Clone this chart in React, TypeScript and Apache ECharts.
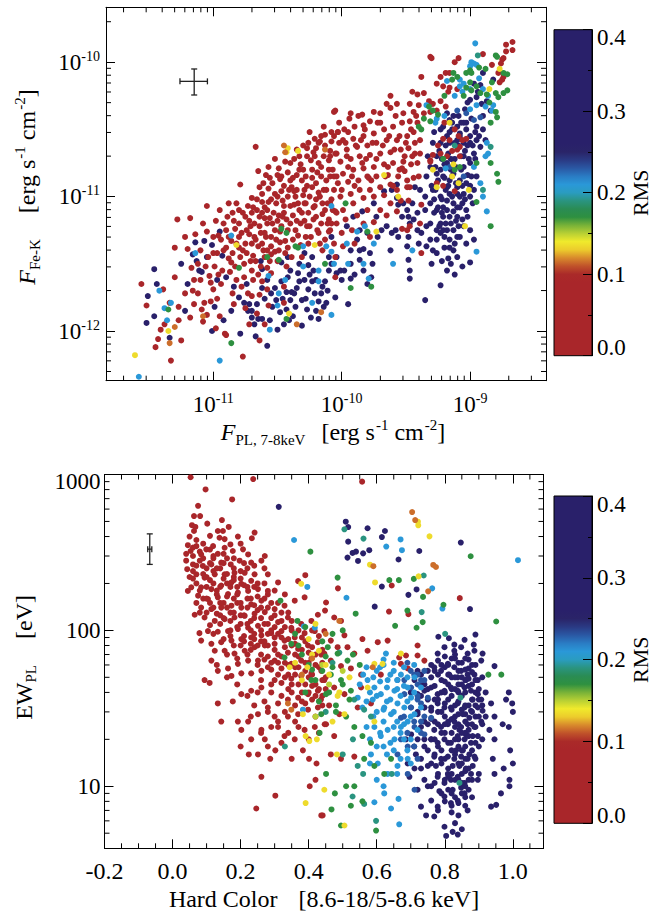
import { useEffect, useRef } from 'react';
import * as echarts from 'echarts';

const FONT = '"Liberation Serif", "Times New Roman", serif';

// colour of the RMS bar, one entry per 0.01 from 0.00 to 0.40
const RMS_COLORS = [
  '#a9262a', '#a9262a', '#a9262a', '#a9262a', '#a9262a', '#a9262a', '#a9262a', '#a9262a', '#a9262a', '#a9262a',
  '#aa2a29', '#c0522a', '#d88a2c', '#eccc2c', '#f0ea2c', '#b8d034', '#78b238', '#2e9040', '#2a8c54', '#2a9480',
  '#2a9cc0', '#2a98d8', '#2a7cc4', '#2a58a4', '#2a3a84',
  '#2a2468', '#29206a', '#29206a', '#29206a', '#29206a', '#29206a', '#29206a', '#29206a', '#29206a', '#29206a',
  '#29206a', '#29206a', '#29206a', '#29206a', '#29206a', '#29206a',
];

// rms value of each colour group of points
const RMS_RED = 0.05;
const RMS_ORANGE = 0.115;
const RMS_YELLOW = 0.135;
const RMS_LIME = 0.15;
const RMS_GREEN = 0.17;
const RMS_TEAL = 0.19;
const RMS_CYAN = 0.21;
const RMS_BLUE = 0.23;
const RMS_NAVY = 0.32;

// ---- top panel, points as [log10 F_PL, log10 F_FeK] ----
const TOP_RED = [
  [-11.56,-11.65],[-11.52,-11.81],[-11.45,-12.12],[-11.39,-11.69],[-11.43,-12.06],[-11.41,-11.99],[-11.34,-11.79],[-11.38,-11.95],
  [-11.33,-12.22],[-11.27,-11.82],[-11.27,-11.92],[-11.25,-12.07],[-11.28,-11.17],[-11.18,-11.16],[-11.20,-11.39],[-11.18,-11.90],
  [-11.16,-11.70],[-11.15,-11.62],[-11.17,-11.53],[-11.14,-11.28],[-11.10,-11.40],[-11.09,-11.84],[-11.08,-11.93],[-11.07,-11.79],
  [-11.05,-11.07],[-11.05,-11.26],[-11.04,-11.45],[-11.03,-11.59],[-11.02,-11.78],[-10.96,-11.29],[-10.94,-11.32],[-10.99,-11.52],
  [-10.96,-11.58],[-10.94,-11.65],[-11.00,-11.69],[-10.97,-11.76],[-10.95,-11.89],[-10.91,-12.02],[-10.90,-12.03],[-10.89,-11.15],
  [-10.85,-11.12],[-10.83,-11.24],[-10.82,-11.35],[-10.88,-11.46],[-10.86,-11.49],[-10.82,-11.62],[-10.79,-11.45],[-10.77,-11.40],
  [-10.75,-11.35],[-10.78,-11.67],[-10.85,-11.72],[-10.77,-12.19],[-10.75,-11.83],[-10.79,-10.91],[-10.73,-11.07],[-10.70,-11.01],
  [-10.71,-11.22],[-10.68,-11.20],[-10.67,-10.63],[-10.65,-10.81],[-10.64,-10.93],[-10.62,-11.04],[-10.62,-11.12],[-10.64,-11.22],
  [-10.68,-11.30],[-10.69,-11.44],[-10.65,-11.37],[-10.65,-11.58],[-10.62,-11.63],[-10.64,-11.73],[-10.70,-11.74],[-10.73,-11.72],
  [-10.66,-11.87],[-10.64,-12.07],[-10.59,-10.84],[-10.56,-10.86],[-10.57,-10.94],[-10.55,-11.02],[-10.58,-11.10],[-10.56,-11.16],
  [-10.60,-11.27],[-10.55,-11.37],[-10.55,-11.43],[-10.58,-11.53],[-10.55,-11.57],[-10.58,-11.69],[-10.57,-11.81],[-10.49,-10.79],
  [-10.48,-10.87],[-10.47,-10.96],[-10.51,-11.05],[-10.45,-11.07],[-10.49,-11.14],[-10.47,-11.22],[-10.51,-11.32],[-10.48,-11.26],
  [-10.44,-11.33],[-10.52,-11.41],[-10.44,-11.42],[-10.43,-11.52],[-10.45,-11.67],[-10.45,-11.79],[-10.40,-10.75],[-10.35,-10.84],
  [-10.32,-10.76],[-10.31,-10.88],[-10.29,-10.95],[-10.39,-10.93],[-10.36,-11.00],[-10.40,-11.07],[-10.38,-11.14],[-10.34,-11.05],
  [-10.31,-11.12],[-10.29,-11.05],[-10.26,-11.12],[-10.32,-11.20],[-10.36,-11.25],[-10.27,-11.22],[-10.38,-11.32],[-10.31,-11.45],
  [-10.14,-10.48],[-10.13,-10.54],[-10.21,-10.57],[-10.17,-10.59],[-10.21,-10.70],[-10.18,-10.75],[-10.08,-10.59],[-10.06,-10.37],
  [-10.10,-10.73],[-10.23,-10.80],[-10.16,-10.85],[-10.09,-10.85],[-10.23,-10.93],[-10.18,-10.97],[-10.12,-10.95],[-10.08,-11.02],
  [-10.21,-11.07],[-10.13,-11.10],[-10.22,-11.17],[-10.16,-11.20],[-10.10,-11.17],[-10.18,-11.27],[-10.10,-11.26],[-10.13,-11.32],
  [-10.05,-11.60],[-10.75,-11.15],[-10.72,-11.28],[-10.60,-11.08],[-10.58,-11.20],[-10.52,-10.98],[-10.50,-11.18],[-10.45,-10.92],
  [-10.42,-11.00],[-10.40,-11.20],[-10.35,-10.95],[-10.33,-11.10],[-10.28,-10.85],[-10.25,-11.00],[-10.24,-11.30],[-10.20,-10.90],
  [-10.20,-11.15],[-10.15,-11.05],[-10.28,-11.30],[-10.45,-11.12],[-10.62,-10.98],[-10.66,-11.10],[-10.70,-11.12],[-10.80,-11.20],
  [-10.90,-11.25],[-10.92,-11.40],[-10.87,-11.56],[-10.80,-11.30],[-10.76,-11.50],[-10.70,-11.55],[-10.60,-11.45],[-10.50,-11.48],
  [-10.62,-11.35],[-10.42,-10.82],[-10.37,-10.72],[-10.27,-10.70],[-10.30,-10.62],[-10.25,-10.52],
  [-8.67,-9.85],[-8.72,-9.87],[-8.67,-9.91],[-8.72,-9.92],[-9.31,-9.96],[-9.30,-9.97],[-8.90,-9.94],[-8.75,-9.98],
  [-8.76,-10.01],[-8.74,-9.97],[-9.12,-10.00],[-9.09,-9.97],[-8.83,-10.02],[-8.78,-10.08],[-8.75,-10.13],[-8.77,-10.15],
  [-8.74,-10.11],[-9.19,-10.08],[-9.16,-10.08],[-9.23,-10.11],[-9.38,-10.11],[-9.26,-10.16],[-9.21,-10.18],[-9.16,-10.19],
  [-9.17,-10.22],[-9.10,-10.20],[-9.45,-10.22],[-9.41,-10.24],[-9.36,-10.23],[-9.47,-10.31],[-9.40,-10.32],[-9.32,-10.29],
  [-9.29,-10.31],[-9.23,-10.29],[-9.19,-10.33],[-9.26,-10.36],[-9.31,-10.37],[-9.44,-10.37],[-9.36,-10.38],
  [-9.21,-10.57],[-9.16,-10.58],[-9.09,-10.55],[-9.03,-10.57],[-9.08,-10.63],[-9.23,-10.68],[-9.29,-10.69],[-9.18,-10.70],
  [-9.26,-10.90],[-9.31,-10.73],[-9.21,-10.92],[-9.12,-10.96],[-9.10,-10.65],[-9.08,-10.70],[-9.39,-10.68],[-9.41,-10.75],
  [-9.31,-10.74],
  [-10.05,-10.36],[-9.93,-10.38],[-9.84,-10.39],[-9.75,-10.37],[-9.65,-10.31],[-9.57,-10.31],[-9.62,-10.34],[-9.70,-10.38],
  [-9.78,-10.44],[-9.83,-10.47],[-9.90,-10.48],[-9.95,-10.52],[-10.03,-10.52],[-10.06,-10.55],[-9.99,-10.58],[-9.91,-10.57],
  [-9.83,-10.55],[-9.75,-10.53],[-9.67,-10.50],[-9.60,-10.48],[-9.53,-10.45],[-9.47,-10.44],[-9.41,-10.45],[-9.44,-10.52],
  [-9.49,-10.55],[-9.57,-10.58],[-9.65,-10.58],[-9.73,-10.60],[-9.80,-10.62],[-9.88,-10.63],[-9.96,-10.65],[-10.04,-10.68],
  [-10.09,-10.70],[-10.01,-10.74],[-9.93,-10.72],[-9.86,-10.70],[-9.78,-10.69],[-9.70,-10.68],[-9.62,-10.67],[-9.54,-10.65],
  [-9.48,-10.64],[-9.43,-10.60],[-9.39,-10.58],[-9.45,-10.70],[-9.52,-10.74],[-9.60,-10.75],[-9.67,-10.76],[-9.75,-10.78],
  [-9.83,-10.79],[-9.91,-10.80],[-9.99,-10.83],[-10.06,-10.85],[-10.03,-10.90],[-9.95,-10.89],[-9.87,-10.88],[-9.79,-10.86],
  [-9.73,-10.85],[-9.64,-10.84],[-9.56,-10.85],[-9.51,-10.81],[-9.62,-10.91],[-9.70,-10.93],[-9.78,-10.95],[-9.86,-10.95],
  [-9.93,-10.98],[-10.01,-11.00],[-10.09,-11.05],[-10.05,-11.11],[-9.99,-11.10],[-9.91,-11.05],[-9.83,-11.01],[-9.75,-11.00],
  [-9.67,-10.99],[-9.57,-10.95],[-9.49,-10.93],[-9.54,-11.03],[-9.62,-11.05],[-9.70,-11.10],[-9.80,-11.10],[-9.88,-11.14],
  [-9.97,-11.17],[-10.04,-11.20],[-10.09,-11.25],[-10.00,-11.27],[-9.92,-11.25],[-9.83,-11.20],[-9.75,-11.19],[-9.65,-11.14],
  [-9.57,-11.11],[-9.47,-10.93],[-9.48,-11.03],[-9.38,-11.06],[-9.39,-11.20],[-9.47,-11.22],[-9.53,-11.24],[-10.06,-11.35],
  [-9.99,-11.37],[-10.05,-11.45],[-9.90,-11.35],[-9.78,-11.30],[-9.49,-11.25],[-9.38,-11.42],[-9.49,-10.88],[-9.44,-10.86],
  [-9.53,-10.79],[-9.40,-10.85],
];
// extra red points read from the densest part of the red cloud
const TOP_RED_CORE = [
  [-10.88,-11.05],[-10.84,-11.18],[-10.86,-11.33],[-10.80,-11.10],[-10.78,-11.27],[-10.74,-11.42],[-10.72,-11.18],[-10.70,-11.35],
  [-10.67,-11.48],[-10.66,-11.02],[-10.63,-11.27],[-10.61,-11.40],[-10.60,-11.16],[-10.83,-11.52],[-10.76,-11.60],[-10.69,-11.62],
  [-10.90,-11.38],[-10.93,-11.55],[-10.97,-11.42],[-11.00,-11.30],[-10.98,-11.18],[-11.06,-11.52],[-11.10,-11.62],[-11.12,-11.72],
  [-11.02,-11.64],[-10.57,-11.04],[-10.53,-11.12],[-10.52,-11.25],[-10.54,-10.90],[-10.50,-10.84],[-10.46,-11.03],[-10.43,-11.17],
  [-10.42,-11.38],[-10.41,-10.95],[-10.38,-10.86],[-10.37,-11.06],[-10.34,-11.29],[-10.33,-10.80],[-10.30,-10.99],[-10.29,-11.18],
  [-10.27,-10.92],[-10.26,-11.35],[-10.24,-10.73],[-10.22,-11.08],[-10.20,-10.64],[-10.19,-10.82],[-10.17,-11.00],[-10.15,-11.13],
  [-10.14,-10.70],[-10.12,-10.88],[-10.11,-11.05],[-10.09,-10.66],[-10.07,-10.80],[-10.06,-10.95],[-10.04,-11.12],[-10.03,-10.52],
  [-10.19,-11.25],[-10.15,-11.40],[-10.08,-11.20],[-10.35,-10.65],[-10.26,-10.60],[-10.16,-10.55],[-10.48,-11.34],[-10.55,-11.30],
  [-10.58,-11.40],[-10.02,-10.45],[-9.97,-10.60],[-9.95,-10.78],[-9.90,-10.92],[-9.85,-10.58],[-9.81,-10.72],[-9.77,-10.88],
  [-9.72,-10.45],[-9.68,-10.62],[-9.64,-10.78],[-9.60,-10.92],[-9.58,-10.40],[-9.55,-10.55],[-9.51,-10.70],[-9.46,-10.50],
  [-9.43,-10.68],[-9.62,-10.25],[-9.52,-10.38],[-9.20,-10.45],[-9.14,-10.66],[-9.06,-10.58],[-9.25,-10.62],[-9.12,-10.50],
  [-10.95,-11.10],[-10.92,-11.20],[-10.88,-11.30],[-10.85,-11.42],[-10.82,-11.05],[-10.80,-11.38],[-10.77,-11.12],[-10.74,-11.25],
  [-10.71,-11.48],[-10.69,-11.08],[-10.67,-11.32],[-10.64,-11.15],[-10.63,-11.52],[-10.61,-10.90],[-10.59,-11.30],[-10.57,-10.78],
  [-10.56,-11.48],[-10.54,-11.20],[-10.52,-10.72],[-10.50,-11.00],[-10.49,-11.40],[-10.47,-10.85],[-10.46,-11.15],[-10.44,-10.74],
  [-10.42,-11.25],[-10.40,-10.88],[-10.39,-11.45],[-10.37,-10.96],[-10.35,-11.18],[-10.33,-10.70],[-10.32,-11.36],[-10.30,-10.80],
  [-10.28,-11.05],[-10.27,-10.64],[-10.25,-11.22],[-10.23,-10.86],[-10.22,-10.67],[-10.20,-11.02],[-10.18,-10.60],[-10.17,-11.35],
  [-10.16,-10.78],[-10.14,-10.95],[-10.13,-10.62],[-10.11,-11.20],[-10.10,-10.80],[-10.08,-10.52],[-10.07,-11.10],[-10.05,-10.68],
  [-10.04,-10.85],[-10.02,-10.60],[-10.00,-10.95],[-9.98,-10.50],[-9.96,-10.70],[-9.94,-10.42],[-9.92,-10.85],[-9.89,-10.62],
  [-9.87,-10.40],[-9.84,-10.75],[-9.82,-10.50],[-9.80,-10.85],[-9.76,-10.60],[-9.73,-10.72],[-9.70,-10.45],[-9.66,-10.85],
  [-9.63,-10.55],[-9.59,-10.65],[-9.55,-10.80],[-9.50,-10.60],[-9.46,-10.76],[-9.42,-10.40],
  [-11.22,-11.30],[-11.12,-11.50],[-11.08,-11.20],[-11.00,-11.42],[-11.15,-11.80],[-11.05,-11.88],[-10.98,-11.98],[-10.84,-11.80],
  [-10.72,-11.95],[-10.60,-11.95],[-11.30,-11.60],[-11.22,-11.72],[-11.30,-11.38],
];
const TOP_NAVY = [
  [-11.46,-11.54],[-11.51,-11.74],[-11.52,-11.94],[-11.46,-11.89],[-11.44,-11.65],[-11.34,-12.05],[-11.16,-11.43],[-11.14,-11.34],
  [-11.13,-11.48],[-11.11,-11.55],[-11.09,-11.56],[-11.07,-11.33],[-11.01,-12.00],[-10.95,-11.26],[-11.01,-11.36],[-10.93,-11.44],
  [-10.92,-11.92],[-10.84,-11.67],[-10.79,-12.02],[-10.76,-11.79],[-10.72,-11.80],[-10.73,-11.85],[-10.70,-11.85],[-10.63,-11.48],
  [-10.65,-11.91],[-10.62,-11.91],[-10.67,-12.04],[-10.58,-12.11],[-10.62,-11.54],[-10.60,-11.76],[-10.54,-11.82],[-10.51,-11.77],
  [-10.50,-11.99],[-10.47,-11.49],[-10.42,-11.45],[-10.47,-11.63],[-10.42,-11.60],[-10.43,-11.71],[-10.39,-11.71],[-10.40,-11.77],
  [-10.43,-11.84],[-10.38,-11.89],[-10.31,-11.96],[-10.29,-11.42],[-10.23,-11.45],[-10.26,-11.51],[-10.22,-11.55],[-10.34,-11.57],
  [-10.29,-11.62],[-10.23,-11.63],[-10.35,-11.68],[-10.26,-11.69],[-10.21,-11.72],[-10.16,-11.72],[-10.31,-11.77],[-10.18,-11.78],
  [-10.12,-11.79],[-10.27,-11.84],[-10.18,-11.91],[-10.08,-11.30],[-10.10,-11.45],[-10.13,-11.63],
  [-8.97,-10.16],[-8.92,-10.17],[-8.95,-10.26],[-8.91,-10.31],[-9.00,-10.28],[-8.87,-10.29],[-8.84,-10.36],[-8.90,-10.08],
  [-8.82,-10.13],[-9.18,-10.38],[-9.16,-10.43],[-9.21,-10.48],[-9.14,-10.50],[-9.10,-10.48],[-9.05,-10.45],[-9.08,-10.53],
  [-9.03,-10.50],[-9.00,-10.55],[-9.05,-10.60],[-9.00,-10.60],[-8.95,-10.58],[-9.10,-10.58],[-9.18,-10.55],[-9.16,-10.60],
  [-9.23,-10.60],[-9.31,-10.78],[-9.26,-10.83],[-9.34,-10.85],[-9.21,-10.85],[-9.16,-10.88],[-9.10,-10.93],[-9.29,-10.95],
  [-9.23,-11.00],[-9.18,-11.03],[-9.13,-11.05],[-9.08,-11.08],[-9.16,-11.15],[-9.21,-11.15],[-9.10,-11.15],[-9.26,-11.10],
  [-9.31,-11.05],[-9.05,-10.98],[-9.00,-11.00],[-9.03,-11.10],[-9.18,-11.25],[-9.23,-11.27],[-9.31,-11.32],[-9.26,-11.32],
  [-9.16,-11.32],[-9.10,-11.30],[-9.05,-11.22],[-9.00,-11.25],[-8.97,-11.32],[-9.17,-11.46],[-9.06,-11.52],[-9.34,-11.37],
  [-9.29,-11.40],[-9.21,-11.25],[-9.18,-10.75],[-9.13,-10.73],[-9.05,-10.70],[-9.00,-10.75],[-9.26,-10.70],[-9.23,-10.80],
  [-9.13,-10.83],[-9.08,-10.88],[-9.03,-10.90],[-9.18,-10.93],[-9.16,-10.98],[-9.08,-11.00],[-9.21,-11.08],[-9.13,-11.11],
  [-9.06,-11.17],[-9.23,-11.20],[-9.31,-11.20],[-9.03,-11.35],[-9.13,-11.40],[-8.95,-10.48],[-8.90,-10.50],[-8.92,-10.63],
  [-8.97,-10.68],[-8.95,-10.85],[-8.97,-10.95],[-9.23,-11.66],[-9.12,-11.58],[-9.35,-11.77],[-9.00,-11.49],
  [-9.57,-10.91],[-9.61,-10.95],[-9.67,-10.96],[-9.75,-11.05],[-9.84,-11.11],[-9.91,-11.15],[-9.96,-11.22],[-9.86,-11.25],
  [-9.80,-11.27],[-9.88,-11.32],[-9.93,-11.40],[-9.83,-11.39],[-9.78,-11.42],[-9.86,-11.47],[-9.93,-11.50],[-10.01,-11.55],
  [-9.83,-11.55],[-9.77,-11.60],[-9.93,-11.61],[-9.80,-11.65],[-10.04,-11.57],[-10.08,-11.50],[-9.57,-11.01],[-9.52,-11.05],
  [-9.49,-11.10],[-9.48,-11.15],[-9.47,-11.20],[-9.48,-11.30],[-9.49,-11.37],[-9.48,-11.47],[-9.47,-11.55],[-9.47,-11.61],
  [-9.56,-11.06],[-9.41,-11.12],[-9.44,-11.17],[-9.61,-11.27],[-9.58,-11.25],[-9.69,-11.25],[-9.65,-11.22],[-9.73,-11.15],
  [-9.41,-11.25],[-9.34,-11.22],[-9.38,-11.27],[-9.40,-11.35],[-9.53,-11.15],[-9.45,-11.05],[-9.39,-10.95],[-9.43,-10.93],
  [-9.35,-11.00],
];
// extra navy points read from the dense cluster near 1e-9 and the lower left group
const TOP_NAVY_CORE = [
  [-9.28,-10.52],[-9.24,-10.66],[-9.20,-10.76],[-9.17,-10.68],[-9.15,-10.80],[-9.12,-10.72],[-9.11,-10.90],[-9.09,-10.62],
  [-9.07,-10.80],[-9.04,-10.66],[-9.02,-10.84],[-9.00,-10.92],[-8.98,-10.62],[-9.27,-10.95],[-9.22,-11.02],[-9.19,-10.95],
  [-9.14,-11.00],[-9.10,-11.08],[-9.06,-11.05],[-9.02,-11.15],[-9.28,-11.12],[-9.24,-11.22],[-9.19,-11.20],[-9.13,-11.25],
  [-9.08,-11.30],[-9.26,-11.42],[-9.20,-11.38],[-9.15,-11.50],[-9.10,-11.45],[-9.07,-10.45],[-9.13,-10.40],[-9.04,-10.35],
  [-8.99,-10.42],[-8.93,-10.55],[-8.96,-10.72],[-9.33,-10.70],[-9.30,-10.92],[-9.35,-11.10],
  [-10.55,-11.72],[-10.48,-11.86],[-10.36,-11.82],[-10.33,-11.63],[-10.25,-11.58],[-10.20,-11.85],[-10.15,-11.67],[-10.10,-11.55],
  [-10.05,-11.75],[-10.00,-11.62],[-9.95,-11.80],[-10.62,-11.68],[-10.68,-11.95],[-10.40,-11.55],[-10.45,-11.95],
  [-9.29,-10.60],[-9.27,-10.78],[-9.25,-10.88],[-9.23,-10.50],[-9.22,-10.72],[-9.20,-10.86],[-9.19,-10.62],[-9.17,-10.92],
  [-9.16,-10.52],[-9.15,-10.72],[-9.14,-10.85],[-9.12,-10.60],[-9.11,-10.78],[-9.10,-10.98],[-9.08,-10.55],[-9.07,-10.70],
  [-9.06,-10.92],[-9.05,-10.78],[-9.04,-11.02],[-9.03,-10.45],[-9.02,-10.62],[-9.01,-10.72],[-8.99,-10.85],[-8.98,-11.05],
  [-8.96,-10.52],[-9.28,-11.02],[-9.25,-11.08],[-9.22,-11.12],[-9.18,-11.10],[-9.15,-11.20],[-9.11,-11.18],[-9.09,-11.22],
  [-9.26,-11.25],[-9.20,-11.30],[-9.16,-11.38],[-9.12,-11.35],[-9.22,-11.48],[-9.18,-11.55],[-9.30,-11.50],[-9.14,-10.45],
  [-9.09,-10.40],[-9.02,-10.30],[-8.94,-10.22],[-8.90,-10.40],[-8.88,-10.58],
  [-10.90,-11.60],[-10.86,-11.85],[-10.80,-11.75],[-10.74,-11.65],[-10.70,-11.90],[-10.66,-11.80],[-10.58,-11.62],[-10.56,-11.92],
  [-10.52,-11.68],[-10.46,-11.76],[-10.41,-11.92],[-10.37,-11.72],[-10.33,-11.50],[-10.28,-11.76],[-10.24,-11.90],[-10.20,-11.62],
  [-10.14,-11.82],[-10.11,-11.70],[-10.04,-11.45],[-9.98,-11.55],[-9.90,-11.58],[-9.86,-11.40],[-9.76,-11.50],[-9.72,-11.30],
  [-9.62,-11.40],[-9.56,-11.30],[-11.25,-11.50],[-11.20,-11.65],[-11.05,-11.45],[-10.97,-11.62],[-10.99,-11.82],[-11.22,-11.85],
];
const TOP_BLUE = [[-9.03,-10.38],[-8.97,-10.43],[-9.10,-10.36],[-8.92,-10.41],[-9.05,-10.85],[-9.16,-10.78]];
const TOP_CYAN = [
  [-11.58,-12.34],[-11.42,-11.70],[-11.38,-11.83],[-11.33,-11.79],[-11.36,-11.92],[-11.14,-11.42],[-10.95,-12.22],[-10.86,-11.29],
  [-10.57,-11.59],[-10.50,-11.81],[-10.56,-11.99],[-10.44,-11.62],[-10.49,-11.72],[-10.30,-11.37],[-10.30,-11.52],[-10.18,-11.55],
  [-10.18,-11.63],[-10.23,-11.79],[-10.08,-11.88],[-10.08,-11.07],[-10.12,-11.37],[-10.06,-11.50],
  [-8.96,-9.86],[-8.99,-10.00],[-8.97,-10.01],[-8.95,-10.02],[-9.00,-10.03],[-9.18,-10.14],[-9.08,-10.13],[-9.05,-10.16],
  [-9.08,-10.18],[-9.06,-10.22],[-8.88,-10.33],[-8.82,-10.32],[-8.83,-10.36],[-9.34,-10.32],[-9.26,-10.42],[-9.27,-10.45],
  [-9.19,-10.79],[-8.87,-11.11],[-8.95,-11.41],[-8.97,-10.78],[-8.88,-10.70],[-8.86,-10.68],[-8.87,-10.60],[-10.08,-11.41],
  [-9.96,-11.35],[-9.83,-11.50],[-9.79,-11.61],[-9.95,-11.50],[-9.88,-11.26],[-9.82,-11.22],[-9.75,-11.35],
  [-8.93,-10.12],[-8.90,-10.20],[-8.86,-10.25],[-9.00,-10.20],[-8.95,-10.32],[-9.12,-10.25],[-9.20,-10.40],[-9.00,-10.35],
  [-8.92,-10.90],[-8.90,-11.00],[-9.45,-11.40],[-9.60,-11.50],
];
const TOP_TEAL = [[-8.94,-9.95],[-8.84,-10.63],[-9.12,-10.62],[-8.90,-10.95]];
const TOP_GREEN = [
  [-11.35,-11.84],[-10.86,-12.09],[-10.80,-11.53],[-10.58,-11.45],[-10.47,-11.24],[-10.43,-11.27],[-10.49,-11.47],[-10.43,-11.91],
  [-10.36,-11.37],[-10.34,-11.38],[-10.13,-11.50],
  [-8.80,-9.95],[-8.79,-9.96],[-9.00,-10.06],[-9.03,-10.08],[-8.99,-10.08],[-8.93,-10.04],[-8.74,-10.08],[-8.71,-10.09],
  [-9.13,-10.08],[-9.10,-10.11],[-9.14,-10.13],[-9.03,-10.19],[-8.99,-10.21],[-8.95,-10.18],[-8.92,-10.23],[-8.87,-10.24],
  [-8.80,-10.23],[-8.78,-10.26],[-8.74,-10.23],[-8.71,-10.21],[-8.79,-10.41],[-8.80,-10.37],[-8.84,-10.45],[-9.32,-10.33],
  [-9.29,-10.36],[-9.36,-10.42],[-9.31,-10.44],[-9.25,-10.39],[-9.38,-10.50],[-9.40,-10.48],[-9.21,-10.72],[-9.12,-10.80],
  [-9.08,-10.78],[-8.95,-10.75],[-8.84,-10.75],[-8.79,-10.83],[-8.78,-10.89],[-8.95,-11.04],[-8.84,-11.22],[-9.97,-11.05],
  [-9.80,-11.26],[-9.77,-11.67],[-9.93,-11.68],[-8.88,-10.05],[-8.83,-10.15],[-9.05,-10.25],[-9.00,-10.15],[-8.85,-10.30],
  [-9.20,-10.25],
];
const TOP_YELLOW = [
  [-11.61,-12.18],[-11.35,-12.00],[-10.82,-11.36],[-10.41,-11.87],[-10.42,-10.64],[-10.43,-10.67],[-10.34,-10.66],[-10.21,-11.36],
  [-8.77,-10.05],[-8.85,-10.20],[-9.29,-10.80],[-9.26,-10.93],[-9.14,-10.85],[-9.09,-10.90],[-9.04,-11.22],[-9.01,-10.95],
  [-9.13,-10.76],[-9.16,-10.45],[-9.73,-11.26],[-9.67,-10.84],[-9.56,-11.00],
];
const TOP_ORANGE = [
  [-11.34,-12.09],[-11.30,-11.97],[-11.08,-11.89],[-10.35,-11.95],[-10.45,-10.62],[-10.44,-10.67],[-10.16,-11.86],[-10.13,-10.65],
];
// typical error of one point, top panel
const TOP_ERR = { x: 7.1e-12, xLo: 5.5e-12, xHi: 9.0e-12, y: 7.2e-11, yLo: 5.7e-11, yHi: 8.9e-11 };
const TOP_X_RANGE = [1.46e-12, 3.9e-9];
const TOP_Y_RANGE = [4.27e-13, 2.56e-10];

// ---- bottom panel, points as [hard colour, EW in eV] ----
const BOT_RED = [
  [0.053,960],[0.237,935],[0.097,802],[0.175,692],[0.075,630],[0.063,541],[0.081,541],[0.145,510],[0.102,484],[0.165,461],
  [0.057,473],[0.067,461],[0.063,434],[0.110,404],[0.133,434],[0.148,434],[0.138,393],[0.153,385],[0.192,400],[0.170,356],
  [0.200,360],[0.241,424],[0.233,390],[0.045,352],[0.053,323],[0.040,310],[0.070,347],[0.084,307],[0.099,331],[0.119,347],
  [0.133,310],[0.153,339],[0.177,323],[0.207,331],[0.222,307],[0.271,300],[0.261,280],[0.231,272],[0.197,280],[0.171,265],
  [0.143,272],[0.114,265],[0.089,259],[0.060,265],[0.043,247],[0.070,229],[0.094,218],[0.124,229],[0.153,229],[0.182,234],
  [0.212,234],[0.241,229],[0.280,229],[0.231,208],[0.202,199],[0.173,203],[0.143,194],[0.114,184],[0.084,189],[0.055,189],
  [0.045,179],[0.075,167],[0.104,159],[0.133,163],[0.163,171],[0.192,175],[0.222,179],[0.251,184],[0.280,179],[0.310,203],
  [0.261,155],[0.231,147],[0.202,140],[0.173,144],[0.143,140],[0.114,137],[0.084,140],[0.065,126],[0.094,121],[0.124,115],
  [0.153,118],[0.182,121],[0.212,124],[0.241,128],[0.271,131],[0.300,137],[0.329,144],[0.359,155],[0.388,163],[0.369,207],
  [0.390,226],[0.079,96],[0.104,99],[0.133,98],[0.163,99],[0.192,102],[0.222,104],[0.251,107],[0.280,110],[0.310,113],
  [0.339,121],[0.084,86],[0.114,82],[0.143,84],[0.173,86],[0.202,88],[0.231,90],[0.261,93],[0.290,96],[0.320,99],
  [0.349,104],[0.378,110],[0.408,115],[0.427,126],[0.114,64],[0.124,74],[0.153,74],[0.182,71],[0.212,74],[0.241,78],
  [0.271,80],[0.300,82],[0.329,86],[0.359,90],[0.388,96],[0.418,99],[0.133,55],[0.163,57],[0.192,61],[0.222,64],
  [0.251,64],[0.280,68],[0.310,70],[0.339,72],[0.369,76],[0.398,80],[0.427,84],[0.094,48],[0.109,46],[0.173,51],
  [0.202,53],[0.231,53],[0.261,55],[0.290,56],[0.320,57],[0.349,61],[0.378,64],[0.408,66],[0.437,70],[0.133,34],
  [0.177,35],[0.202,39],[0.231,41],[0.261,43],[0.290,45],[0.320,46],[0.349,49],[0.378,51],[0.408,53],[0.437,55],
  [0.143,26],[0.192,26],[0.222,26],[0.251,29],[0.280,32],[0.310,34],[0.339,36],[0.369,37],[0.398,39],[0.427,41],
  [0.202,23],[0.231,20],[0.261,23],[0.271,20],[0.290,24],[0.310,26],[0.339,28],[0.369,29],[0.398,31],[0.427,32],
  [0.200,18],[0.224,16],[0.251,16],[0.287,15],[0.302,17],[0.329,21],[0.359,20],[0.388,23],[0.418,24],[0.447,25],
  [0.261,11.5],[0.302,8.7],[0.246,7.2],[0.403,10],[0.420,11],[0.437,6.5],[0.401,15],[0.423,14],[0.383,17],
  [0.557,900],[0.644,194],[0.486,186],[0.844,161],[0.636,132],[0.693,127],[0.451,151],[0.448,134],[0.475,121],[0.495,115],
  [0.505,93],[0.446,99],[0.465,86],[0.485,78],[0.514,78],[0.534,71],[0.558,88],[0.573,74],[0.603,84],[0.632,86],
  [0.446,71],[0.465,64],[0.495,59],[0.524,57],[0.554,52],[0.446,48],[0.475,43],[0.505,39],[0.436,36],[0.460,33],
  [0.490,29],[0.451,25],[0.475,21],[0.465,16],[0.495,15],[0.534,15.5],[0.441,6.5],[0.554,43],[0.544,32],[0.666,67],
  [0.686,69],[0.671,61],[0.691,57],[0.720,80],[0.720,69],[0.612,52],[0.583,34],[0.740,64],
];
// extra red points read from the dense red cloud
const BOT_RED_CORE = [
  [0.06,300],[0.08,280],[0.10,250],[0.12,290],[0.14,250],[0.16,290],[0.18,250],[0.20,215],[0.22,250],[0.25,200],
  [0.27,160],[0.29,150],[0.11,210],[0.13,180],[0.16,200],[0.19,190],[0.09,160],[0.07,150],[0.06,215],[0.10,130],
  [0.13,128],[0.17,130],[0.20,110],[0.23,115],[0.26,120],[0.28,95],[0.30,105],[0.32,90],[0.35,80],[0.37,68],
  [0.40,72],[0.42,60],[0.44,62],[0.33,62],[0.36,52],[0.39,45],[0.42,45],[0.44,48],[0.30,64],[0.26,70],
  [0.23,82],[0.20,80],[0.17,92],[0.14,110],[0.11,108],[0.15,150],[0.18,160],[0.22,160],[0.24,145],[0.30,48],
  [0.34,42],[0.36,33],[0.41,36],[0.44,38],
  [0.05,400],[0.07,380],[0.09,360],[0.11,330],[0.08,320],[0.12,300],[0.15,310],[0.18,290],[0.21,270],[0.24,260],
  [0.27,250],[0.06,240],[0.09,230],[0.12,240],[0.15,215],[0.18,210],[0.21,195],[0.24,190],[0.27,200],[0.30,180],
  [0.33,170],[0.07,200],[0.10,190],[0.13,170],[0.16,165],[0.19,150],[0.22,140],[0.25,135],[0.28,140],[0.31,150],
  [0.34,130],[0.08,130],[0.11,150],[0.14,125],[0.17,115],[0.20,125],[0.23,100],[0.26,100],[0.29,120],[0.32,115],
  [0.35,100],[0.38,90],[0.12,95],[0.15,88],[0.18,80],[0.21,92],[0.24,88],[0.27,85],[0.30,90],[0.33,78],
  [0.36,70],[0.39,62],[0.41,78],[0.43,92],[0.16,70],[0.19,66],[0.22,70],[0.25,60],[0.28,58],[0.31,62],
  [0.34,52],[0.37,58],[0.40,50],[0.43,42],[0.26,48],[0.29,40],[0.32,38],[0.35,45],[0.38,40],[0.41,44],
  [0.44,33],[0.33,30],[0.36,26],[0.39,34],[0.42,28],[0.30,28],[0.27,35],[0.24,33],
  [0.04,280],[0.05,220],[0.06,340],[0.07,260],[0.08,180],[0.09,290],[0.10,220],[0.10,160],[0.11,270],[0.12,200],
  [0.12,140],[0.13,250],[0.14,190],[0.14,150],[0.15,270],[0.15,120],[0.16,230],[0.16,140],[0.17,190],[0.17,100],
  [0.18,220],[0.18,130],[0.19,170],[0.19,105],[0.20,240],[0.20,150],[0.21,125],[0.21,85],[0.22,190],[0.22,110],
  [0.23,160],[0.23,75],[0.24,120],[0.24,95],[0.25,165],[0.25,80],[0.26,140],[0.26,85],[0.27,110],[0.27,65],
  [0.28,170],[0.28,80],[0.29,100],[0.29,62],[0.30,125],[0.30,75],[0.31,95],[0.31,52],[0.32,130],[0.32,68],
  [0.33,105],[0.33,50],[0.34,88],[0.34,60],[0.35,115],[0.35,40],[0.36,82],[0.36,58],[0.37,100],[0.37,45],
  [0.38,75],[0.38,35],[0.39,85],[0.39,55],[0.40,62],[0.40,40],[0.41,100],[0.41,52],[0.42,70],[0.42,38],
  [0.43,58],[0.44,75],[0.45,50],[0.45,42],[0.13,60],[0.16,50],[0.19,45],[0.22,38],[0.25,40],[0.28,30],
  [0.31,24],[0.34,22],[0.37,24],[0.40,20],[0.43,22],[0.23,28],[0.26,22],[0.32,19],[0.35,15],[0.28,18],
];
const BOT_NAVY = [
  [0.312,620],[0.509,498],[0.516,460],[0.573,452],[0.624,434],[0.615,397],[0.516,371],[0.529,314],[0.539,320],[0.560,312],
  [0.578,327],[0.514,293],[0.545,279],[0.847,366],[0.725,323],[0.664,285],[0.615,191],[0.717,183],[0.693,169],[0.874,137],
  [0.594,142],[0.781,91],[0.812,89],[0.828,81],[0.858,87],[0.890,94],[0.885,81],[0.911,71],[0.946,59],[0.988,40],
  [0.980,36],[0.998,34],[1.000,30],[0.936,34],[0.946,28],[0.970,25],[0.988,24],[0.931,23],[0.946,20],[0.992,17],
  [1.000,14],[0.973,13],[0.941,15],[0.946,12],[0.990,11],[0.965,9],[0.951,7.6],[0.936,7.4],[0.990,10],
  [0.711,48],[0.730,52],[0.750,55],[0.769,58],[0.789,55],[0.809,61],[0.828,58],[0.848,55],[0.867,52],[0.887,52],
  [0.897,48],[0.720,39],[0.740,41],[0.760,43],[0.779,39],[0.799,41],[0.818,43],[0.838,41],[0.858,43],[0.877,41],
  [0.897,39],[0.907,36],[0.720,29],[0.740,32],[0.760,30.5],[0.779,34],[0.799,32],[0.818,32],[0.838,34],[0.858,32],
  [0.877,30.5],[0.897,32],[0.911,30.5],[0.730,24],[0.750,25],[0.769,23],[0.789,24],[0.809,25],[0.828,26],[0.848,24],
  [0.867,25],[0.887,24],[0.907,26],[0.720,20],[0.740,18],[0.760,20],[0.779,19],[0.799,20],[0.818,19],[0.838,21],
  [0.858,20],[0.877,19],[0.897,21],[0.730,15],[0.750,13.5],[0.769,15.5],[0.789,15],[0.809,15.5],[0.828,15],[0.848,15.5],
  [0.867,15],[0.887,15.5],[0.740,11],[0.760,10],[0.779,11.5],[0.799,10.5],[0.818,11],[0.838,11.5],[0.858,10.5],[0.877,12],
  [0.897,11],[0.760,8.1],[0.779,7.4],[0.799,8.6],[0.818,7.8],[0.838,8.1],[0.858,9],[0.867,7.0],[0.799,5.5],[0.823,5.1],
  [0.838,4.9],[0.804,4.8],[0.730,7.4],[0.745,6.5],[0.769,6.4],[0.720,9.5],[0.696,11.5],[0.711,13],[0.691,14],[0.715,16],
  [0.701,21.5],[0.686,20],[0.779,71],[0.799,78],[0.828,74],[0.848,78],[0.867,71],[0.887,74],[0.907,64],[0.813,52],
  [0.838,50],[0.862,48],[0.882,36],[0.853,29],[0.872,27.5],[0.843,23],[0.862,21.5],[0.882,21],[0.833,17],[0.853,17],
  [0.872,16],[0.823,13.5],[0.843,13.5],[0.862,13],[0.882,13.5],[0.823,9.5],[0.848,9.8],[0.784,9.3],[0.809,12],[0.774,13.5],
];
const BOT_NAVY_CORE = [
  [0.84,35],[0.85,45],[0.83,28],[0.86,22],[0.82,38],[0.87,33],[0.84,18],[0.86,26],[0.80,28],[0.81,45],
  [0.85,62],[0.87,57],[0.79,48],[0.83,66],[0.78,25],[0.88,45],[0.89,28],[0.90,18],[0.82,22],[0.85,12],
  [0.80,15],[0.86,10],[0.77,36],[0.76,50],[0.75,36],[0.74,45],
  [0.76,60],[0.78,52],[0.80,58],[0.82,50],[0.84,55],[0.86,48],[0.88,54],[0.77,44],[0.79,40],[0.81,36],
  [0.83,42],[0.85,38],[0.87,44],[0.89,40],[0.76,32],[0.78,30],[0.80,34],[0.82,31],[0.84,29],[0.86,33],
  [0.88,30],[0.90,36],[0.77,26],[0.79,22],[0.81,26],[0.83,24],[0.85,22],[0.87,23],[0.89,24],[0.76,20],
  [0.78,18],[0.80,22],[0.82,17],[0.84,20],[0.86,18],[0.88,17],[0.77,16],[0.79,14],[0.81,13],[0.83,16],
  [0.85,14],[0.87,13],[0.89,15],[0.78,12],[0.80,11],[0.82,12],[0.84,11],[0.86,12.5],[0.88,11],[0.81,9.5],
  [0.83,8.5],[0.85,9],[0.87,9.5],[0.79,9],[0.82,7.5],[0.84,6.5],[0.86,7.5],[0.83,5.8],[0.85,5.3],[0.87,65],
  [0.83,70],[0.80,68],[0.89,60],[0.91,50],[0.92,40],[0.91,25],[0.73,38],[0.72,30],[0.74,20],[0.73,13],
  [0.75,10],[0.71,18],[0.70,40],
  [0.75,42],[0.76,27],[0.77,55],[0.77,20],[0.78,36],[0.78,64],[0.79,30],[0.79,17],[0.80,47],[0.80,25],
  [0.81,60],[0.81,19],[0.82,42],[0.82,27],[0.82,9],[0.83,33],[0.83,50],[0.83,20],[0.84,40],[0.84,25],
  [0.84,14],[0.85,50],[0.85,31],[0.85,17],[0.86,40],[0.86,29],[0.86,15],[0.87,49],[0.87,21],[0.87,11],
  [0.88,36],[0.88,25],[0.88,60],[0.89,33],[0.89,19],[0.89,48],[0.90,28],[0.90,42],[0.90,12],[0.91,33],
  [0.91,20],[0.92,28],[0.80,40],[0.82,66],[0.84,62],[0.86,66],[0.84,45],[0.86,56],[0.81,52],[0.79,60],
  [0.83,11],[0.85,10.5],[0.81,11.5],[0.80,8],[0.84,7.8],[0.86,8.5],[0.88,8.5],[0.82,6.8],[0.78,7],[0.77,10.5],
  [0.76,14],[0.75,17],[0.74,26],[0.74,32],[0.73,44],[0.72,55],
];
const BOT_BLUE = [
  [0.681,48],[0.701,43],[0.720,36],[0.740,48],[0.750,37],[0.760,27.5],[0.730,26],[0.711,24],[0.740,21.5],[0.691,18],
  [0.671,20],[0.701,32],[0.681,39],[0.661,48],[0.720,52],[0.671,27.5],[0.661,16],[0.691,12],[0.711,9.5],
  [0.70,55],[0.72,45],[0.73,34],[0.71,26],[0.74,28],[0.72,15],[0.68,28],[0.69,62],[0.71,52],[0.73,48],
  [0.72,38],[0.70,32],[0.73,22],[0.71,18],[0.69,22],[0.74,55],
];
const BOT_CYAN = [
  [0.573,48],[0.593,43],[0.612,39],[0.632,48],[0.652,41],[0.671,52],[0.691,43],[0.711,50],[0.622,32],[0.642,29],
  [0.661,34],[0.681,32],[0.701,37],[0.593,24],[0.612,21],[0.632,23],[0.652,20],[0.671,24],[0.691,26],[0.711,29],
  [0.730,32],[0.583,16],[0.603,14],[0.632,12],[0.661,13.5],[0.691,15],[0.622,9],[0.642,7.2],[0.593,7.9],[0.666,5.7],
  [0.664,8.3],[0.627,71],[0.588,36],[0.558,32],[0.544,37],[0.730,43],[0.720,23],[0.511,162],[0.670,383],[0.628,345],
  [0.674,327],[0.763,186],[0.793,138],[1.015,282],[0.357,380],[0.396,190],[0.383,31],[0.418,104],[0.386,106],
  [0.60,55],[0.62,60],[0.65,55],[0.55,45],[0.57,58],[0.60,30],[0.64,36],[0.68,44],[0.70,28],[0.66,26],
  [0.62,18],[0.65,17],[0.68,20],[0.58,20],[0.60,11],[0.56,52],[0.58,40],[0.61,47],[0.63,35],[0.66,42],
  [0.69,35],[0.71,40],[0.59,28],[0.62,26],[0.65,30],[0.67,22],[0.70,20],[0.57,24],[0.60,18],[0.63,16],
  [0.66,12],[0.69,17],[0.62,65],[0.65,62],[0.68,58],[0.71,60],[0.57,35],[0.59,50],[0.61,58],[0.63,43],
  [0.64,52],[0.66,48],[0.67,38],[0.69,50],[0.60,38],[0.62,31],[0.65,24],[0.68,25],[0.61,22],[0.64,19],
  [0.67,15],[0.70,14],[0.58,14],[0.62,10],
];
const BOT_TEAL = [
  [0.505,445],[0.561,388],[0.738,225],[0.732,131],[0.801,95],[0.563,31],[0.534,36],[0.583,28],[0.544,13.5],[0.529,8.6],
  [0.563,7.7],[0.598,6],[0.644,12],[0.330,18],[0.846,37],[0.843,10.5],[0.53,20],[0.50,16],[0.56,12],[0.47,62],
  [0.49,72],[0.45,30],
];
const BOT_GREEN = [
  [0.876,299],[0.485,218],[0.637,210],[0.665,210],[0.709,214],[0.736,164],[0.796,146],[0.690,134],[0.538,128],[0.951,114],
  [0.654,107],[0.717,104],[0.735,113],[0.928,52],[0.966,52],[0.456,78],[0.485,71],[0.514,64],[0.465,52],[0.495,48],
  [0.524,41],[0.451,39],[0.480,33],[0.510,28],[0.534,24],[0.558,21],[0.583,19],[0.563,15],[0.593,13.5],[0.622,12],
  [0.642,15],[0.477,9],[0.534,10],[0.558,8],[0.510,10],[0.524,7.5],[0.598,5.2],[0.495,5.6],[0.467,7.1],[0.451,12],
  [0.405,320],[0.329,67],[0.349,82],[0.367,115],[0.317,155],[0.408,48],[0.437,29],[0.432,22],
  [0.38,70],[0.41,56],[0.45,68],[0.47,58],[0.50,45],[0.52,36],[0.48,30],[0.53,70],[0.55,60],[0.44,85],
  [0.47,95],[0.36,95],[0.39,105],[0.50,100],[0.37,80],[0.40,60],[0.42,48],[0.44,55],[0.46,40],[0.39,40],
  [0.43,35],
];
const BOT_LIME = [[0.44,60],[0.46,45],[0.42,28],[0.50,55]];
const BOT_YELLOW = [
  [0.721,498],[0.722,472],[0.755,401],[0.580,264],[0.595,203],[0.723,222],[0.485,38],[0.505,29],[0.470,26],[0.593,61],
  [0.573,43],[0.446,9.5],[0.505,5.6],[0.483,16],[0.593,26],[0.671,71],[0.617,61],[0.391,7.8],[0.402,19.5],[0.391,21],
  [0.424,20],[0.344,58],[0.396,58],[0.383,29],[0.378,199],[0.40,88],[0.43,74],[0.46,52],[0.49,40],[0.52,50],
  [0.42,110],[0.36,62],[0.41,70],[0.45,60],[0.38,48],
];
const BOT_ORANGE = [
  [0.704,574],[0.713,510],[0.590,258],[0.766,263],[0.774,255],[0.751,178],[0.490,115],[0.588,58],[0.339,34],[0.349,31],
  [0.41,66],[0.45,95],[0.38,52],
];
const BOT_ERR = { x: -0.067, xLo: -0.073, xHi: -0.061, y: 332, yLo: 265, yHi: 416 };
const BOT_X_RANGE = [-0.2, 1.09];
const BOT_Y_RANGE = [4, 1000];

const BLACK = '#000';

function logMinors(min: number, max: number) {
  const out: number[] = [];
  for (let d = Math.floor(Math.log10(min)); d <= Math.ceil(Math.log10(max)); d++) {
    for (let m = 2; m <= 9; m++) {
      const v = m * Math.pow(10, d);
      if (v > min && v < max) out.push(v);
    }
  }
  return out;
}

function linearMinors(min: number, max: number, step: number, every: number) {
  const out: number[] = [];
  for (let k = Math.ceil(min / step); k * step < max; k++) {
    if (k % every !== 0) out.push(Math.round(k * step * 1000) / 1000);
  }
  return out;
}

const tickStyle = { color: BLACK, width: 1 };
const axisLine = { show: true, onZero: false, lineStyle: tickStyle };
const majorTick = { show: true, inside: true, length: 9, lineStyle: tickStyle };

const POW_RICH = {
  b: { fontFamily: FONT, fontSize: 23, lineHeight: 26, color: BLACK },
  s: { fontFamily: FONT, fontSize: 14, lineHeight: 14, verticalAlign: 'top', color: BLACK },
};
const NAME_RICH = {
  i: { fontFamily: FONT, fontStyle: 'italic', fontSize: 24, lineHeight: 30, color: BLACK },
  n: { fontFamily: FONT, fontSize: 24, lineHeight: 30, color: BLACK },
  sub: { fontFamily: FONT, fontSize: 15, lineHeight: 15, verticalAlign: 'bottom', color: BLACK },
  supS: { fontFamily: FONT, fontSize: 15, lineHeight: 15, verticalAlign: 'top', padding: [0, 6, 0, 1], color: BLACK },
  sup: { fontFamily: FONT, fontSize: 15, lineHeight: 15, verticalAlign: 'top', padding: [0, 0, 0, 1], color: BLACK },
  g14: { fontSize: 10, width: 14 },
  g8: { fontSize: 10, width: 8 },
  g16: { fontSize: 10, width: 16 },
  g21: { fontSize: 10, width: 21 },
  g26: { fontSize: 10, width: 26 },
};

const powLabel = (v: number) => `{b|10}{s|${Math.round(Math.log10(v))}}`;

function toTopData(groups: [number[][], number][]) {
  return groups.flatMap(([pts, r]) => pts.map(([lx, ly]) => [Math.pow(10, lx), Math.pow(10, ly), r]));
}
function toBotData(groups: [number[][], number][]) {
  return groups.flatMap(([pts, r]) => pts.map(([x, y]) => [x, y, r]));
}

function minorTickSeries(xi: number, yi: number, values: number[], other: number, dir: 'x' | 'y') {
  return {
    type: 'custom',
    xAxisIndex: xi,
    yAxisIndex: yi,
    silent: true,
    data: values.map((v) => (dir === 'x' ? [v, other] : [other, v])),
    encode: { x: 0, y: 1 },
    renderItem: (params: any, api: any) => {
      const p = api.coord([api.value(0), api.value(1)]);
      const cs = params.coordSys;
      const L = 5;
      const style = { stroke: BLACK, lineWidth: 1 };
      if (dir === 'x') {
        return {
          type: 'group',
          children: [
            { type: 'line', shape: { x1: p[0], y1: cs.y + cs.height, x2: p[0], y2: cs.y + cs.height - L }, style },
            { type: 'line', shape: { x1: p[0], y1: cs.y, x2: p[0], y2: cs.y + L }, style },
          ],
        };
      }
      return {
        type: 'group',
        children: [
          { type: 'line', shape: { x1: cs.x, y1: p[1], x2: cs.x + L, y2: p[1] }, style },
          { type: 'line', shape: { x1: cs.x + cs.width, y1: p[1], x2: cs.x + cs.width - L, y2: p[1] }, style },
        ],
      };
    },
  };
}

function errorBarSeries(xi: number, yi: number, e: typeof TOP_ERR) {
  return {
    type: 'custom',
    xAxisIndex: xi,
    yAxisIndex: yi,
    silent: true,
    data: [[e.x, e.y, e.xLo, e.xHi, e.yLo, e.yHi]],
    encode: { x: 0, y: 1 },
    renderItem: (_params: any, api: any) => {
      const v = (i: number) => api.value(i);
      const l = api.coord([v(2), v(1)]);
      const r = api.coord([v(3), v(1)]);
      const t = api.coord([v(0), v(5)]);
      const b = api.coord([v(0), v(4)]);
      const c = 3;
      const style = { stroke: '#222', lineWidth: 1.3 };
      const seg = (x1: number, y1: number, x2: number, y2: number) => ({ type: 'line', shape: { x1, y1, x2, y2 }, style });
      return {
        type: 'group',
        children: [
          seg(l[0], l[1], r[0], r[1]),
          seg(l[0], l[1] - c, l[0], l[1] + c),
          seg(r[0], r[1] - c, r[0], r[1] + c),
          seg(t[0], t[1], b[0], b[1]),
          seg(t[0] - c, t[1], t[0] + c, t[1]),
          seg(b[0] - c, b[1], b[0] + c, b[1]),
        ],
      };
    },
  };
}

function colorBarSeries(xi: number, yi: number) {
  const stops = RMS_COLORS.map((color, i) => ({ offset: i / (RMS_COLORS.length - 1), color }));
  return {
    type: 'custom',
    xAxisIndex: xi,
    yAxisIndex: yi,
    silent: true,
    z: -1,
    data: [[0, 0, 1, 0.4]],
    encode: { x: 0, y: 1 },
    renderItem: (_params: any, api: any) => {
      const p0 = api.coord([api.value(0), api.value(1)]);
      const p1 = api.coord([api.value(2), api.value(3)]);
      return {
        type: 'rect',
        shape: { x: p0[0], y: p1[1], width: p1[0] - p0[0], height: p0[1] - p1[1] },
        style: { fill: new echarts.graphic.LinearGradient(0, 1, 0, 0, stops) },
      };
    },
  };
}

function colorBarAxes(grid: number) {
  return {
    x: { gridIndex: grid, type: 'value', min: 0, max: 1, show: false },
    y: {
      gridIndex: grid,
      type: 'value',
      min: 0,
      max: 0.4,
      interval: 0.1,
      position: 'right',
      axisLine,
      axisTick: majorTick,
      minorTick: { show: true, splitNumber: 2, length: 4, lineStyle: tickStyle },
      splitLine: { show: false },
      axisLabel: {
        margin: 5,
        fontFamily: FONT,
        fontSize: 23,
        lineHeight: 16,
        color: BLACK,
        formatter: (v: number) => v.toFixed(1),
        verticalAlignMinLabel: 'bottom',
        verticalAlignMaxLabel: 'top',
      },
      name: 'RMS',
      nameLocation: 'middle',
      nameGap: 33,
      nameTextStyle: { fontFamily: FONT, fontSize: 22, color: BLACK },
    },
  };
}

export default function App() {
  const ref = useRef<HTMLDivElement>(null);

  useEffect(() => {
    if (!ref.current) return;
    const chart = echarts.init(ref.current, null, { renderer: 'svg' });

    const topData = toTopData([
      [TOP_NAVY, RMS_NAVY], [TOP_NAVY_CORE, RMS_NAVY], [TOP_RED, RMS_RED], [TOP_RED_CORE, RMS_RED],
      [TOP_BLUE, RMS_BLUE], [TOP_CYAN, RMS_CYAN], [TOP_TEAL, RMS_TEAL],
      [TOP_GREEN, RMS_GREEN], [TOP_YELLOW, RMS_YELLOW], [TOP_ORANGE, RMS_ORANGE],
    ]);
    const botData = toBotData([
      [BOT_RED, RMS_RED], [BOT_RED_CORE, RMS_RED], [BOT_NAVY, RMS_NAVY], [BOT_NAVY_CORE, RMS_NAVY],
      [BOT_BLUE, RMS_BLUE], [BOT_CYAN, RMS_CYAN], [BOT_TEAL, RMS_TEAL],
      [BOT_GREEN, RMS_GREEN], [BOT_LIME, RMS_LIME], [BOT_YELLOW, RMS_YELLOW], [BOT_ORANGE, RMS_ORANGE],
    ]);

    const cbTop = colorBarAxes(1);
    const cbBot = colorBarAxes(3);

    const topLogX = { gridIndex: 0, type: 'log', min: TOP_X_RANGE[0], max: TOP_X_RANGE[1], axisLine, axisTick: majorTick, splitLine: { show: false } };
    const topLogY = { gridIndex: 0, type: 'log', min: TOP_Y_RANGE[0], max: TOP_Y_RANGE[1], axisLine, axisTick: majorTick, splitLine: { show: false } };
    const botLinX = { gridIndex: 2, type: 'value', min: BOT_X_RANGE[0], max: BOT_X_RANGE[1], interval: 0.2, axisLine, axisTick: majorTick, splitLine: { show: false } };
    const botLogY = { gridIndex: 2, type: 'log', min: BOT_Y_RANGE[0], max: BOT_Y_RANGE[1], axisLine, axisTick: majorTick, splitLine: { show: false } };

    const option = {
      animation: false,
      textStyle: { fontFamily: FONT, color: BLACK },
      grid: [
        { left: 106, top: 7.3, width: 440, height: 373.4, outerBoundsMode: 'none', containLabel: false },
        { left: 554, top: 29.7, width: 38, height: 326, show: true, borderColor: BLACK, borderWidth: 1, outerBoundsMode: 'none', containLabel: false },
        { left: 104.5, top: 474.5, width: 439, height: 373.8, outerBoundsMode: 'none', containLabel: false },
        { left: 554, top: 496, width: 38, height: 327.3, show: true, borderColor: BLACK, borderWidth: 1, outerBoundsMode: 'none', containLabel: false },
      ],
      visualMap: {
        type: 'continuous',
        show: false,
        min: 0,
        max: 0.4,
        dimension: 2,
        seriesIndex: [0, 1],
        inRange: { color: RMS_COLORS },
      },
      xAxis: [
        {
          ...topLogX,
          position: 'bottom',
          axisLabel: { margin: 11, showMinLabel: false, showMaxLabel: false, formatter: powLabel, rich: POW_RICH },
          name: '{g14| }{i|F}{sub|PL, 7-8keV}{g16| }{n|[erg s}{supS|-1}{n|cm}{sup|-2}{n|]}',
          nameLocation: 'middle',
          nameGap: 36,
          nameTextStyle: { rich: NAME_RICH },
        },
        { ...topLogX, position: 'top', axisLabel: { show: false } },
        cbTop.x,
        {
          ...botLinX,
          position: 'bottom',
          axisLabel: {
            margin: 10, fontFamily: FONT, fontSize: 24, lineHeight: 26, color: BLACK,
            showMinLabel: true, showMaxLabel: false, formatter: (v: number) => v.toFixed(1),
          },
          name: '{n|Hard Color}{g21| }{n|[8.6-18/5-8.6 keV]}',
          nameLocation: 'middle',
          nameGap: 36,
          nameTextStyle: { rich: NAME_RICH },
        },
        { ...botLinX, position: 'top', axisLabel: { show: false } },
        cbBot.x,
      ],
      yAxis: [
        {
          ...topLogY,
          position: 'left',
          axisLabel: { margin: 6, showMinLabel: false, showMaxLabel: false, formatter: powLabel, rich: POW_RICH },
          name: '{g14| }{i|F}{sub|Fe-K}{g26| }{n|[erg s}{supS|-1}{n|cm}{sup|-2}{n|]}',
          nameLocation: 'middle',
          nameGap: 64,
          nameTextStyle: { rich: NAME_RICH },
        },
        { ...topLogY, position: 'right', axisLabel: { show: false } },
        cbTop.y,
        {
          ...botLogY,
          position: 'left',
          axisLabel: {
            margin: 4, fontFamily: FONT, fontSize: 23, lineHeight: 14, color: BLACK,
            showMinLabel: false, showMaxLabel: true, verticalAlignMaxLabel: 'top',
            formatter: (v: number) => String(Math.round(v)),
          },
          name: '{g8| }{n|EW}{sub|PL}{g26| }{n|[eV]}',
          nameLocation: 'middle',
          nameGap: 66,
          nameTextStyle: { rich: NAME_RICH },
        },
        { ...botLogY, position: 'right', axisLabel: { show: false } },
        cbBot.y,
      ],
      series: [
        { type: 'scatter', xAxisIndex: 0, yAxisIndex: 0, data: topData, symbolSize: 6, silent: true, itemStyle: { opacity: 1 } },
        { type: 'scatter', xAxisIndex: 3, yAxisIndex: 3, data: botData, symbolSize: 6, silent: true, itemStyle: { opacity: 1 } },
        minorTickSeries(0, 0, logMinors(TOP_X_RANGE[0], TOP_X_RANGE[1]), TOP_Y_RANGE[0], 'x'),
        minorTickSeries(0, 0, logMinors(TOP_Y_RANGE[0], TOP_Y_RANGE[1]), TOP_X_RANGE[0], 'y'),
        minorTickSeries(3, 3, linearMinors(BOT_X_RANGE[0], BOT_X_RANGE[1], 0.05, 4), BOT_Y_RANGE[0], 'x'),
        minorTickSeries(3, 3, logMinors(BOT_Y_RANGE[0], BOT_Y_RANGE[1]), BOT_X_RANGE[0], 'y'),
        errorBarSeries(0, 0, TOP_ERR),
        errorBarSeries(3, 3, BOT_ERR),
        colorBarSeries(2, 2),
        colorBarSeries(5, 5),
      ],
    };

    chart.setOption(option as any);
    return () => chart.dispose();
  }, []);

  return <div ref={ref} style={{ position: 'absolute', left: 0, top: 0, width: 671, height: 911 }} />;
}
